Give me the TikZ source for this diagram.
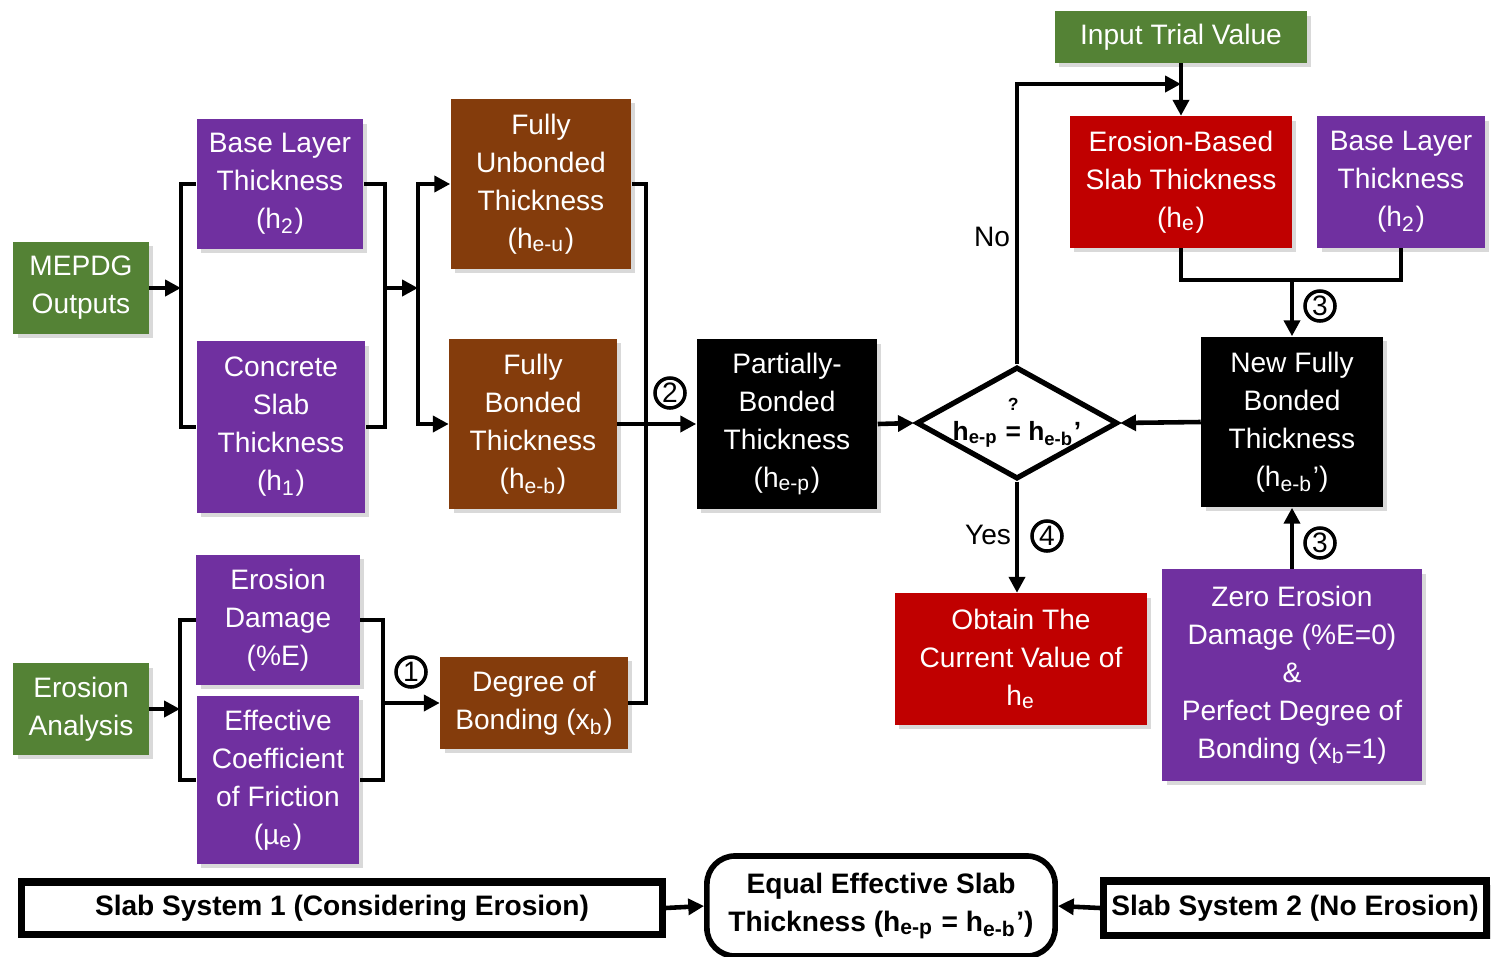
\documentclass[tikz,border=0pt]{standalone}
\usepackage{fontspec}
\setmainfont{Liberation Sans}
\usetikzlibrary{arrows.meta,shapes.geometric,shadows}
\definecolor{grn}{RGB}{84,130,53}
\definecolor{pur}{RGB}{112,48,160}
\definecolor{brn}{RGB}{132,60,12}
\definecolor{rd}{RGB}{192,0,0}
\def\num#1#2{node[numc] (#1) {#2}}

\begin{document}
\begin{tikzpicture}[x=0.01cm, y=-0.01cm,
    box/.style={text=white, align=center, inner sep=0pt, font=\fontsize{8}{10.8}\selectfont,
      drop shadow={shadow xshift=1.2pt, shadow yshift=-1.2pt, opacity=.3}},
    wbox/.style={draw, fill=white, align=center, inner sep=0pt, font=\bfseries\fontsize{8}{10.8}\selectfont},
    conn/.style={line width=1.3pt},
    arr/.style={conn, -{Triangle[length=4.5pt,width=4.5pt]}},
    numc/.style={circle, draw, line width=1pt, inner sep=0pt, minimum size=0.3cm, font=\fontsize{8}{8}\selectfont},
    lbl/.style={font=\fontsize{8}{8}\selectfont}]
        \useasboundingbox (0,0) rectangle (1502,957);
        \node[box, fill=grn, minimum width=1.35cm, minimum height=0.92cm] (mepdg) at (81,288) {MEPDG\\Outputs};
        \node[box, fill=pur, minimum width=1.66cm, minimum height=1.29cm] (base1) at (280,184) {Base Layer\\Thickness\\(h\textsubscript{2})};
        \node[box, fill=pur, minimum width=1.68cm, minimum height=1.71cm] (slab1) at (281,427) {Concrete\\Slab\\Thickness\\(h\textsubscript{1})};
        \node[box, fill=brn, minimum width=1.80cm, minimum height=1.70cm] (fub) at (541,184) {Fully\\Unbonded\\Thickness\\(h\textsubscript{e-u})};
        \node[box, fill=brn, minimum width=1.67cm, minimum height=1.70cm] (fb) at (533,424) {Fully\\Bonded\\Thickness\\(h\textsubscript{e-b})};
        \node[box, fill=black, minimum width=1.80cm, minimum height=1.69cm] (partial) at (787,424) {Partially-\\Bonded\\Thickness\\(h\textsubscript{e-p})};
        \node[box, fill=grn, minimum width=1.35cm, minimum height=0.91cm] (erosion) at (81,709) {Erosion\\Analysis};
        \node[box, fill=pur, minimum width=1.63cm, minimum height=1.30cm] (edmg) at (278,620) {Erosion\\Damage\\(\%E)};
        \node[box, fill=pur, minimum width=1.62cm, minimum height=1.68cm] (fric) at (278,780) {Effective\\Coefficient\\of Friction\\(µ\textsubscript{e})};
        \node[box, fill=brn, minimum width=1.87cm, minimum height=0.92cm] (dob) at (534,703) {Degree of\\Bonding (x\textsubscript{b})};
        \node[diamond, draw, fill=white, line width=1.5pt, shape aspect=1.8, inner sep=-2pt,
          minimum width=2.01cm, minimum height=1.12cm, font=\bfseries\fontsize{7.5}{9}\selectfont] (check) at (1017,423)
          {h\textsubscript{e-p} \shortstack{\fontsize{5}{5}\selectfont ?\\[1.5pt]=} h\textsubscript{e-b}’};
        \node[box, fill=grn, minimum width=2.52cm, minimum height=0.51cm] (trial) at (1181,37) {Input Trial Value};
        \node[box, fill=rd, minimum width=2.22cm, minimum height=1.31cm] (ebased) at (1181,182) {Erosion-Based\\Slab Thickness\\(h\textsubscript{e})};
        \node[box, fill=pur, minimum width=1.67cm, minimum height=1.31cm] (base2) at (1401,182) {Base Layer\\Thickness\\(h\textsubscript{2})};
        \node[box, fill=black, minimum width=1.81cm, minimum height=1.70cm] (newfb) at (1292,422) {New Fully\\Bonded\\Thickness\\(h\textsubscript{e-b}’)};
        \node[box, fill=pur, minimum width=2.59cm, minimum height=2.11cm] (zero) at (1292,675) {Zero Erosion\\Damage (\%E=0)\\\&\\Perfect Degree of\\Bonding (x\textsubscript{b}=1)};
        \node[box, fill=rd, minimum width=2.52cm, minimum height=1.31cm] (obtain) at (1021,659) {Obtain The\\Current Value of\\h\textsubscript{e}};
        \node[wbox, line width=2pt, minimum width=6.40cm, minimum height=0.52cm,
          drop shadow={shadow xshift=1.2pt, shadow yshift=-1.2pt, opacity=.3}] (sys1) at (342,908) {Slab System 1 (Considering Erosion)};
        \node[wbox, line width=1.6pt, rounded corners=8pt, minimum width=3.48cm, minimum height=1.00cm] (equal) at (881,906)
          {Equal Effective Slab\\Thickness (h\textsubscript{e-p} = h\textsubscript{e-b}’)};
        \node[wbox, line width=2pt, minimum width=3.83cm, minimum height=0.54cm,
          drop shadow={shadow xshift=1.2pt, shadow yshift=-1.2pt, opacity=.3}] (sys2) at (1295,908) {Slab System 2 (No Erosion)};
        \coordinate (b1) at (181,288);
        \coordinate (b2) at (385,288);
        \coordinate (b3) at (418,288);
        \coordinate (c1) at (646,424);
        \coordinate (e1) at (180,709);
        \coordinate (e2) at (383,703);
        \coordinate (n1) at (1181,84);
        \coordinate (j3) at (1292,280);
        \draw[arr] (mepdg) -- (b1);
        \draw[conn] (base1.west) -| (b1) |- (slab1.west);
        \draw[conn] (base1.east) -| (b2) |- (slab1.east);
        \draw[arr] (b2) -- (b3);
        \draw[arr] (b3) |- (fub.west);
        \draw[arr] (b3) |- (fb.west);
        \draw[conn] (fub.east) -| (c1) |- (dob.east);
        \draw[arr] (fb.east) -- (partial.west);
        \draw[arr] (erosion) -- (e1);
        \draw[conn] (edmg.west) -| (e1) |- (fric.west);
        \draw[conn] (edmg.east) -| (e2) |- (fric.east);
        \draw[arr] (e2) -- (dob.west);
        \draw[arr] (partial.east) -- (check.west);
        \draw[arr] (check.north) |- (n1);
        \draw[arr] (trial.south) -- (ebased.north);
        \draw[conn] (ebased.south) |- (j3) -| (base2.south);
        \draw[arr] (j3) -- (newfb.north);
        \draw[arr] (newfb.west) -- (check.east);
        \draw[arr] (zero.north) -- (newfb.south);
        \draw[arr] (check.south) -- (check.south |- obtain.north);
        \draw[arr] (sys1.east) -- (equal.west);
        \draw[arr] (sys2.west) -- (equal.east);
        \node[lbl] (no) at (992,237) {No};
        \node[lbl] (yes) at (988,535) {Yes};
        \path (411,672) \num{c1n}{1};
        \path (670,393) \num{c2n}{2};
        \path (1320,306) \num{c3a}{3};
        \path (1320,543) \num{c3b}{3};
        \path (1047,536) \num{c4n}{4};
      \end{tikzpicture}
\end{document}
